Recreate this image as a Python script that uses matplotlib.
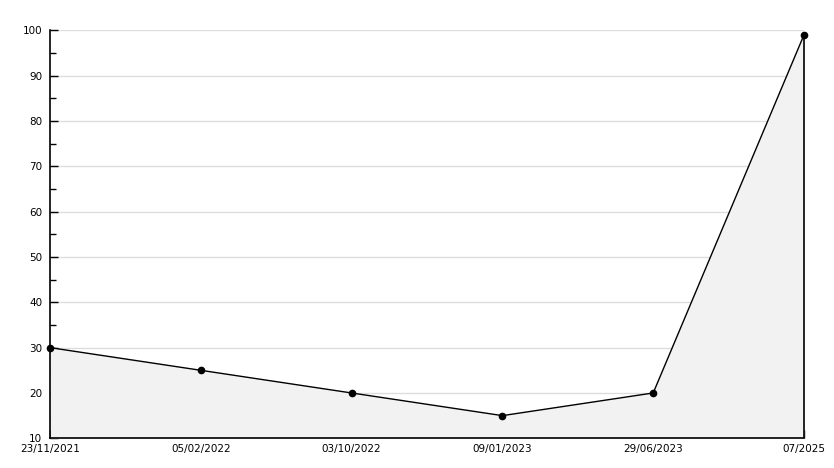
import matplotlib
matplotlib.use("Agg")
import matplotlib.pyplot as plt
from matplotlib.ticker import MultipleLocator

dates = ["23/11/2021", "05/02/2022", "03/10/2022", "09/01/2023", "29/06/2023", "07/2025"]
values = [30, 25, 20, 15, 20, 99]

fig = plt.figure(figsize=(8.34, 4.68), dpi=100)
ax = fig.add_axes([50/834, 1-438.3/468, (804-50)/834, (438.3-30.3)/468])

x = list(range(len(dates)))
ax.fill_between(x, values, 10, color="#f2f2f2", zorder=1, linewidth=0)
ax.plot(x, values, color="black", linewidth=1, zorder=3, clip_on=False)
ax.plot(x, values, linestyle="none", marker="o", markersize=4.5, color="black", zorder=4, clip_on=False)
ax.vlines(x[-1], 10, values[-1], color="black", linewidth=1.2, zorder=3, clip_on=False)

ax.set_xlim(0, len(dates) - 1)
ax.set_ylim(10, 100)
ax.yaxis.set_major_locator(MultipleLocator(10))
ax.yaxis.set_minor_locator(MultipleLocator(5))
ax.set_xticks(x)
ax.set_xticklabels(dates)

ax.grid(axis="y", which="major", color="#dddddd", linewidth=1, zorder=0)
ax.set_axisbelow(True)

for s in ["top", "right"]:
    ax.spines[s].set_visible(False)
for s in ["left", "bottom"]:
    ax.spines[s].set_linewidth(1.2)
    ax.spines[s].set_color("black")

ax.tick_params(axis="y", which="major", direction="in", length=6, width=1, labelsize=7.5, pad=5.5)
ax.tick_params(axis="y", which="minor", direction="in", length=4, width=1)
ax.tick_params(axis="x", which="major", direction="in", length=6, width=1, labelsize=7.5, pad=4)

fig.savefig("out.png", dpi=100)
